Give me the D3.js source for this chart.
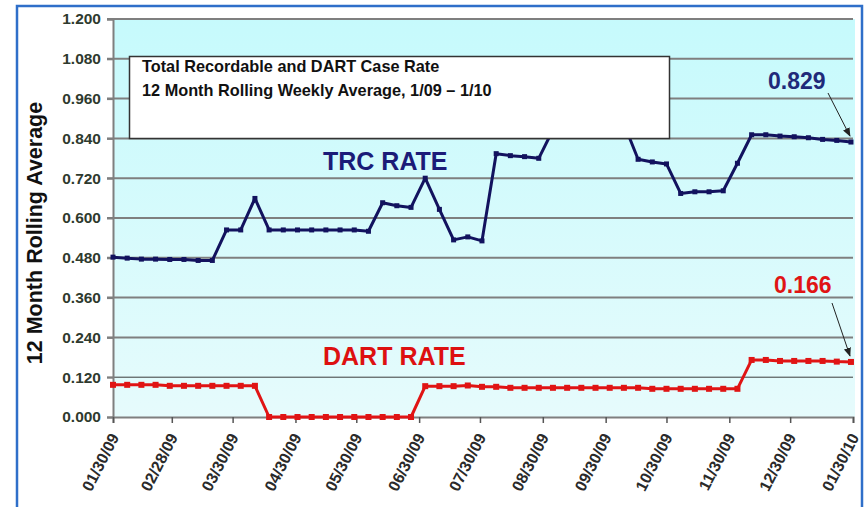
<!DOCTYPE html>
<html>
<head>
<meta charset="utf-8">
<script src="https://cdn.jsdelivr.net/npm/d3@7"></script>
<style>
  body { margin: 0; background: #fff; }
  svg { display: block; font-family: Arial, "Liberation Sans", sans-serif; }
</style>
</head>
<body>
<div id="chart"></div>
<script>
// weekly points, first week ending 01/30/09
const firstWeek = "01/30/09";
const weekCount = 53;

const trcRate = [
  0.482, 0.479, 0.476, 0.476, 0.475, 0.475, 0.472, 0.472, 0.564, 0.564,
  0.659, 0.564, 0.564, 0.564, 0.564, 0.564, 0.564, 0.564, 0.560, 0.646,
  0.637, 0.632, 0.720, 0.626, 0.534, 0.543, 0.531, 0.794, 0.788, 0.785,
  0.780, 0.866, 0.874, 0.880, 0.886, 0.890, 0.884, 0.777, 0.769, 0.763,
  0.674, 0.679, 0.679, 0.682, 0.765, 0.851, 0.851, 0.847, 0.845, 0.842,
  0.837, 0.834, 0.829
];

const dartRate = [
  0.097, 0.097, 0.097, 0.097, 0.094, 0.094, 0.094, 0.094, 0.094, 0.094,
  0.094, 0.000, 0.000, 0.000, 0.000, 0.000, 0.000, 0.000, 0.000, 0.000,
  0.000, 0.000, 0.093, 0.093, 0.093, 0.095, 0.091, 0.091, 0.088, 0.088,
  0.088, 0.088, 0.088, 0.088, 0.088, 0.088, 0.088, 0.088, 0.085, 0.085,
  0.085, 0.085, 0.085, 0.085, 0.085, 0.172, 0.172, 0.169, 0.169, 0.169,
  0.169, 0.167, 0.166
];

const yTicks = [0, 0.12, 0.24, 0.36, 0.48, 0.6, 0.72, 0.84, 0.96, 1.08, 1.2];
const xTickLabels = ["01/30/09", "02/28/09", "03/30/09", "04/30/09", "05/30/09", "06/30/09",
  "07/30/09", "08/30/09", "09/30/09", "10/30/09", "11/30/09", "12/30/09", "01/30/10"];

const titleLines = ["Total Recordable and DART Case Rate", "12 Month Rolling Weekly Average, 1/09 \u2013 1/10"];
const yTitle = "12 Month Rolling Average";

const width = 865, height = 507;
const plot = { left: 113, right: 853, top: 19, bottom: 417 };

const parse = d3.timeParse("%m/%d/%y");
const start = parse(firstWeek);
const weeks = d3.range(weekCount).map(i => d3.timeWeek.offset(start, i));
const xTicks = xTickLabels.map(parse);

const x = d3.scaleTime()
  .domain([xTicks[0], xTicks[xTicks.length - 1]])
  .range([plot.left, plot.right]);
const y = d3.scaleLinear()
  .domain([0, 1.2])
  .range([plot.bottom, plot.top]);

const svg = d3.select("#chart").append("svg")
  .attr("width", width)
  .attr("height", height);

const defs = svg.append("defs");
const grad = defs.append("linearGradient")
  .attr("id", "bg").attr("x1", 0).attr("y1", 0).attr("x2", 0).attr("y2", 1);
grad.append("stop").attr("offset", "0%").attr("stop-color", "#c6fafc");
grad.append("stop").attr("offset", "100%").attr("stop-color", "#e6fbfc");

defs.append("marker")
  .attr("id", "arrow")
  .attr("viewBox", "0 0 10 10")
  .attr("refX", 9).attr("refY", 5)
  .attr("markerWidth", 9).attr("markerHeight", 9)
  .attr("orient", "auto")
  .append("path")
  .attr("d", "M0,1 L10,5 L0,9 z")
  .attr("fill", "#222");

// outer frame
svg.append("rect")
  .attr("x", 17).attr("y", 6)
  .attr("width", 845).attr("height", 520)
  .attr("fill", "#fff")
  .attr("stroke", "#2f6fc9")
  .attr("stroke-width", 2.5);

// plot background
svg.append("rect")
  .attr("x", plot.left).attr("y", plot.top)
  .attr("width", plot.right - plot.left + 2)
  .attr("height", plot.bottom - plot.top)
  .attr("fill", "url(#bg)");

// gridlines
svg.append("g")
  .selectAll("line")
  .data(yTicks.filter(d => d > 0))
  .join("line")
  .attr("x1", plot.left - 6).attr("x2", plot.right)
  .attr("y1", d => y(d)).attr("y2", d => y(d))
  .attr("stroke", d => d === 0.12 ? "#3a3a3a" : "#7f7f7f")
  .attr("stroke-width", d => d === 0.12 ? 1 : 2);

// y axis
const yAxis = svg.append("g")
  .attr("transform", `translate(${plot.left},0)`)
  .call(d3.axisLeft(y).tickValues(yTicks).tickFormat(d3.format(".3f")).tickSize(6).tickPadding(6));
yAxis.select(".domain").attr("stroke", "#7f7f7f").attr("stroke-width", 2);
yAxis.selectAll(".tick line").attr("stroke", "#7f7f7f").attr("stroke-width", 2);
yAxis.selectAll("text")
  .attr("font-size", 15.5)
  .attr("font-weight", "bold")
  .attr("font-family", "Arial, 'Liberation Sans', sans-serif")
  .attr("fill", "#2e3a2e");

// x axis
const xAxis = svg.append("g")
  .attr("transform", `translate(0,${plot.bottom})`)
  .call(d3.axisBottom(x).tickValues(xTicks).tickFormat(d3.timeFormat("%m/%d/%y")).tickSize(6));
xAxis.select(".domain").attr("stroke", "#7f7f7f").attr("stroke-width", 2);
xAxis.selectAll(".tick line").attr("stroke", "#555").attr("stroke-width", 1.5);
xAxis.selectAll("text")
  .attr("font-size", 16)
  .attr("font-weight", "bold")
  .attr("font-family", "Arial, 'Liberation Sans', sans-serif")
  .attr("fill", "#2a2a2a")
  .attr("text-anchor", "end")
  .attr("dy", 0)
  .attr("transform", "translate(6,20) rotate(-63)")
  .attr("y", 0);

// title box
svg.append("rect")
  .attr("class", "title-box")
  .attr("x", 129.5).attr("y", 56.5)
  .attr("width", 540).attr("height", 82)
  .attr("fill", "#fff")
  .attr("stroke", "#333")
  .attr("stroke-width", 1.5);
svg.append("g")
  .selectAll("text")
  .data(titleLines)
  .join("text")
  .attr("x", 142)
  .attr("y", (d, i) => 72 + i * 24)
  .attr("font-size", 16.3)
  .attr("font-weight", "bold")
  .attr("fill", "#111")
  .text(d => d);

// y title
svg.append("text")
  .attr("transform", "translate(42,233) rotate(-90)")
  .attr("text-anchor", "middle")
  .attr("font-size", 21.5)
  .attr("font-weight", "bold")
  .attr("fill", "#111")
  .text(yTitle);

// series
const series = [
  { name: "TRC", values: trcRate, color: "#12125e", size: 5 },
  { name: "DART", values: dartRate, color: "#e01414", size: 6 }
];

const line = d3.line()
  .x((d, i) => x(weeks[i]))
  .y(d => y(d));

// lines go under the title box, as in the original
series.forEach(s => {
  svg.insert("path", ".title-box")
    .attr("d", line(s.values))
    .attr("fill", "none")
    .attr("stroke", s.color)
    .attr("stroke-width", 3)
    .attr("stroke-linejoin", "round");
  svg.insert("g", ".title-box")
    .selectAll("rect")
    .data(s.values)
    .join("rect")
    .attr("x", (d, i) => x(weeks[i]) - s.size / 2)
    .attr("y", d => y(d) - s.size / 2)
    .attr("width", s.size)
    .attr("height", s.size)
    .attr("fill", s.color);
});

// series labels
svg.append("text")
  .attr("x", 323).attr("y", 170)
  .attr("font-size", 25)
  .attr("font-weight", "bold")
  .attr("fill", "#1b1b78")
  .text("TRC RATE");
svg.append("text")
  .attr("x", 323).attr("y", 365)
  .attr("font-size", 25)
  .attr("font-weight", "bold")
  .attr("fill", "#dd1010")
  .text("DART RATE");

// end value callouts
const lastIdx = weekCount - 1;
const callouts = [
  { value: trcRate[lastIdx], color: "#1f2a7a", tx: 768, ty: 89, ax: 828, ay: 93 },
  { value: dartRate[lastIdx], color: "#e01414", tx: 774, ty: 293, ax: 832, ay: 303 }
];
callouts.forEach(c => {
  svg.append("text")
    .attr("x", c.tx).attr("y", c.ty)
    .attr("font-size", 23)
    .attr("font-weight", "bold")
    .attr("fill", c.color)
    .text(d3.format(".3f")(c.value));
  svg.append("line")
    .attr("x1", c.ax).attr("y1", c.ay)
    .attr("x2", x(weeks[lastIdx]) - 1).attr("y2", y(c.value) - 6)
    .attr("stroke", "#222")
    .attr("stroke-width", 1)
    .attr("marker-end", "url(#arrow)");
});
</script>
</body>
</html>
